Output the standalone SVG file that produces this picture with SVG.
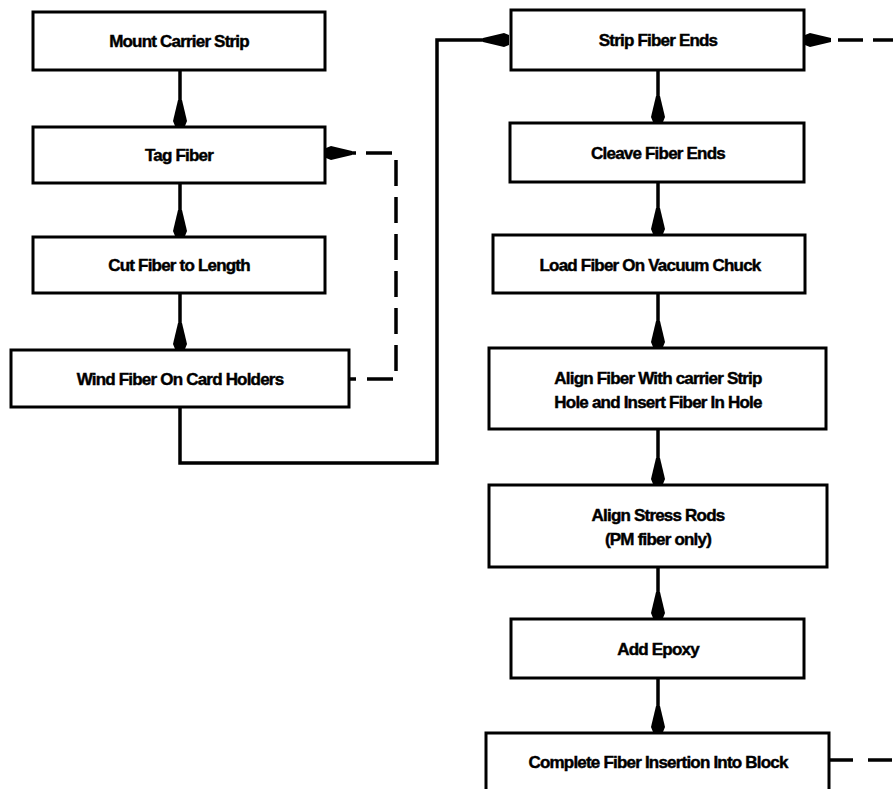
<svg xmlns="http://www.w3.org/2000/svg" width="893" height="789" viewBox="0 0 893 789">
<style>
.box{fill:#fff;stroke:#000;stroke-width:3}
.lbl{font-family:"Liberation Sans",Arial,sans-serif;font-weight:bold;font-size:17px;letter-spacing:-0.8px;text-anchor:middle;fill:#000;stroke:#000;stroke-width:0.45}
.ln{fill:none;stroke:#000;stroke-width:3.5}
.dash{fill:none;stroke:#000;stroke-width:3.5}
</style>
<defs>
<marker id="ah" markerUnits="userSpaceOnUse" viewBox="-28 -9 30 18" markerWidth="30" markerHeight="18" refX="0" refY="0" orient="auto" overflow="visible">
<path d="M0,-5 L-5,-7 L-26,-2 L-26,2 L-5,7 L0,5 Z" fill="#000"/>
</marker>
</defs>
<rect width="893" height="789" fill="#fff"/>
<g id="connectors">
<path class="ln" d="M180,70 V126" marker-end="url(#ah)"/>
<path class="ln" d="M180,183 V236" marker-end="url(#ah)"/>
<path class="ln" d="M180,293 V349" marker-end="url(#ah)"/>
<path class="ln" d="M180,407 V463 H437 V40 H509" marker-end="url(#ah)"/>
<path class="dash" d="M366,153 H396 V379 H349" stroke-dasharray="26 11"/>
<path class="ln" d="M356,153 H326" marker-end="url(#ah)"/>
<path class="dash" d="M838,40 H893" stroke-dasharray="25 10"/>
<path class="ln" d="M829,40 H805" marker-end="url(#ah)"/>
<path class="dash" d="M829,760 H893" stroke-dasharray="24 15"/>
<path class="ln" d="M658,70 V122" marker-end="url(#ah)"/>
<path class="ln" d="M658,182 V234" marker-end="url(#ah)"/>
<path class="ln" d="M658,293 V347" marker-end="url(#ah)"/>
<path class="ln" d="M658,429 V484" marker-end="url(#ah)"/>
<path class="ln" d="M658,567 V618" marker-end="url(#ah)"/>
<path class="ln" d="M658,678 V732" marker-end="url(#ah)"/>
</g>
<g id="n1"><rect class="box" x="33" y="12" width="292" height="58"/><text class="lbl" x="179" y="47">Mount Carrier Strip</text></g>
<g id="n2"><rect class="box" x="33" y="127" width="292" height="56"/><text class="lbl" x="179" y="161">Tag Fiber</text></g>
<g id="n3"><rect class="box" x="33" y="237" width="292" height="56"/><text class="lbl" x="179" y="271">Cut Fiber to Length</text></g>
<g id="n4"><rect class="box" x="11" y="350" width="338" height="57"/><text class="lbl" x="180" y="385">Wind Fiber On Card Holders</text></g>
<g id="n5"><rect class="box" x="511" y="10" width="293" height="60"/><text class="lbl" x="658" y="46">Strip Fiber Ends</text></g>
<g id="n6"><rect class="box" x="510" y="123" width="294" height="59"/><text class="lbl" x="658" y="159">Cleave Fiber Ends</text></g>
<g id="n7"><rect class="box" x="493" y="235" width="312" height="58"/><text class="lbl" x="650" y="271">Load Fiber On Vacuum Chuck</text></g>
<g id="n8"><rect class="box" x="489" y="348" width="337" height="81"/><text class="lbl" x="658" y="384">Align Fiber With carrier Strip</text><text class="lbl" x="658" y="408">Hole and Insert Fiber In Hole</text></g>
<g id="n9"><rect class="box" x="489" y="485" width="338" height="82"/><text class="lbl" x="658" y="521">Align Stress Rods</text><text class="lbl" x="658" y="545">(PM fiber only)</text></g>
<g id="n10"><rect class="box" x="511" y="619" width="293" height="59"/><text class="lbl" x="658" y="655">Add Epoxy</text></g>
<g id="n11"><rect class="box" x="486" y="733" width="343" height="62"/><text class="lbl" x="658" y="768">Complete Fiber Insertion Into Block</text></g>
</svg>
